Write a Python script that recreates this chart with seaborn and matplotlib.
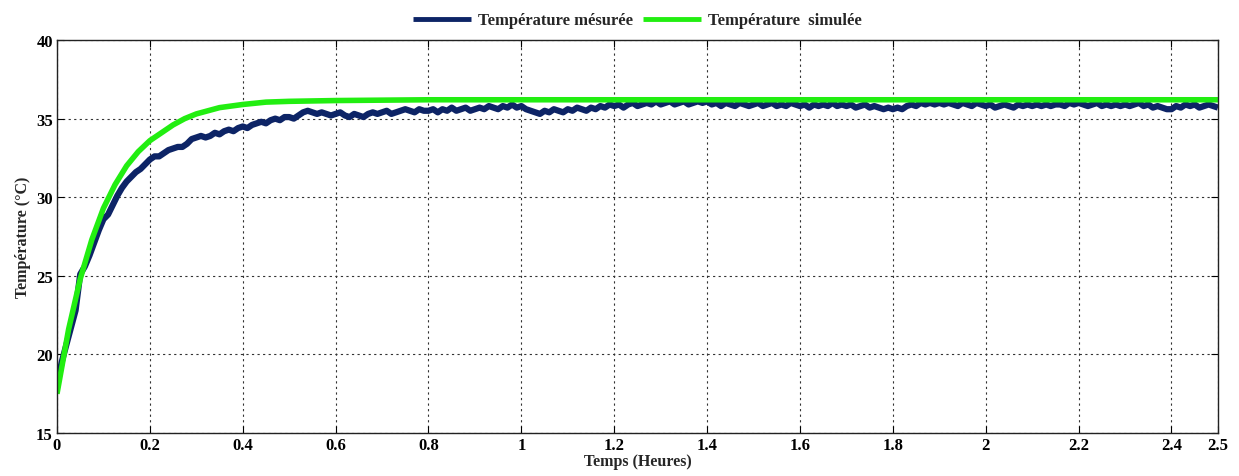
import numpy as np
import pandas as pd
import seaborn as sns
import matplotlib.pyplot as plt

t_mes = np.round(np.arange(0, 2.5001, 0.01), 2)
temp_mes = [
    18.0, 19.5, 20.6, 21.7, 22.8, 25.1, 25.6, 26.3, 27.1, 27.9,
    28.6, 28.9, 29.5, 30.1, 30.6, 31.0, 31.3, 31.6, 31.8, 32.1,
    32.4, 32.6, 32.6, 32.8, 33.0, 33.1, 33.2, 33.2, 33.4, 33.7,
    33.8, 33.9, 33.8, 33.9, 34.1, 34.0, 34.2, 34.3, 34.2, 34.4,
    34.5, 34.4, 34.6, 34.7, 34.8, 34.7, 34.9, 35.0, 34.9, 35.1,
    35.1, 35.0, 35.2, 35.4, 35.5, 35.4, 35.3, 35.4, 35.3, 35.2,
    35.3, 35.4, 35.2, 35.1, 35.3, 35.2, 35.1, 35.3, 35.4, 35.3,
    35.4, 35.5, 35.3, 35.4, 35.5, 35.6, 35.5, 35.4, 35.6, 35.5,
    35.5, 35.6, 35.4, 35.6, 35.5, 35.7, 35.5, 35.6, 35.7, 35.5,
    35.6, 35.7, 35.6, 35.8, 35.7, 35.6, 35.8, 35.7, 35.9, 35.7,
    35.8, 35.6, 35.5, 35.4, 35.3, 35.5, 35.4, 35.6, 35.5, 35.4,
    35.6, 35.5, 35.7, 35.6, 35.5, 35.7, 35.6, 35.8, 35.7, 35.9,
    35.8, 35.9, 35.7, 35.9, 36.0, 35.8, 35.9, 36.0, 35.9, 36.1,
    35.9, 36.0, 36.1, 35.9, 36.0, 36.1, 35.9, 36.0, 36.1, 36.0,
    36.1, 35.9, 36.0, 35.8, 36.0, 35.9, 35.8, 36.0, 35.9, 35.8,
    35.9, 36.0, 35.8, 35.9, 36.0, 35.8, 35.9, 35.8, 36.0, 35.9,
    35.8, 35.9, 35.7, 35.9, 35.8, 35.9, 35.8, 36.0, 35.8, 35.9,
    35.8, 35.9, 35.7, 35.8, 35.9, 35.7, 35.8, 35.7, 35.6, 35.7,
    35.6, 35.7, 35.6, 35.8, 35.9, 35.8, 36.0, 35.9, 36.0, 35.9,
    36.0, 35.9, 36.0, 35.9, 35.8, 36.0, 35.9, 35.8, 36.0, 35.9,
    35.8, 35.9, 35.7, 35.8, 35.9, 35.8, 35.7, 35.9, 35.8, 35.9,
    35.8, 35.9, 35.8, 35.9, 35.8, 35.9, 35.9, 35.8, 36.0, 35.9,
    36.0, 35.9, 35.8, 35.9, 36.0, 35.8, 35.9, 35.8, 35.9, 35.8,
    35.9, 35.8, 35.9, 36.0, 35.8, 35.9, 35.7, 35.8, 35.7, 35.6,
    35.6, 35.8, 35.7, 35.9, 35.8, 35.9, 35.7, 35.8, 35.9, 35.8,
    35.7,
]

# simulated temperature
t_sim = [0, 0.025, 0.05, 0.075, 0.1, 0.125, 0.15, 0.175, 0.2, 0.225,
         0.25, 0.275, 0.3, 0.35, 0.4, 0.45, 0.5, 0.6, 0.8, 1.0, 1.5, 2.0, 2.5]
temp_sim = [17.5, 21.6, 24.8, 27.3, 29.3, 30.8, 32.0, 32.9, 33.6, 34.1,
            34.6, 35.0, 35.3, 35.7, 35.9, 36.05, 36.1, 36.15, 36.2, 36.2,
            36.2, 36.2, 36.2]

x_ticks = [0, 0.2, 0.4, 0.6, 0.8, 1, 1.2, 1.4, 1.6, 1.8, 2, 2.2, 2.4, 2.5]
y_ticks = [15, 20, 25, 30, 35, 40]

df_mes = pd.DataFrame({'t': t_mes, 'T': temp_mes})
df_sim = pd.DataFrame({'t': t_sim, 'T': temp_sim})

sns.set_style('ticks')
plt.rcParams['font.family'] = ['Liberation Serif', 'DejaVu Serif']
plt.rcParams['font.weight'] = 'bold'

fig = plt.figure(figsize=(12.39, 4.77), dpi=100)
ax = fig.add_axes([0.046, 0.090, 0.937, 0.824])

sns.lineplot(data=df_mes, x='t', y='T', ax=ax, color='#0d2466', lw=4.5,
             label='Température mésurée', solid_capstyle='butt')
sns.lineplot(data=df_sim, x='t', y='T', ax=ax, color='#22ee11', lw=4,
             label='Température  simulée', solid_capstyle='butt')

ax.set_xlim(0, 2.5)
ax.set_ylim(15, 40)
ax.set_xticks(x_ticks)
ax.set_xticklabels([f'{v:g}' for v in x_ticks])
ax.set_yticks(y_ticks)
ax.grid(True, color='#333333', linestyle=(0, (2, 3)), lw=0.8)
ax.tick_params(direction='in', top=True, right=True, length=5,
               labelsize=12, colors='black', pad=3)
for lab in ax.get_xticklabels() + ax.get_yticklabels():
    lab.set_fontweight('bold')
for s in ax.spines.values():
    s.set_color('#222222')
    s.set_linewidth(1)

ax.set_xlabel('Temps (Heures)', fontsize=11.5, fontweight='bold', labelpad=0)
ax.set_ylabel('Température (°C)', fontsize=11.5, fontweight='bold', labelpad=4)

leg = ax.legend(loc='lower center', bbox_to_anchor=(0.5, 1.0), ncol=2, frameon=False,
                prop={'weight': 'bold', 'size': 12}, handlelength=3.5,
                columnspacing=0.6, handletextpad=0.4, borderaxespad=0.3)
for h in leg.get_lines():
    h.set_linewidth(3.5)

fig.savefig('out.png', dpi=100)
